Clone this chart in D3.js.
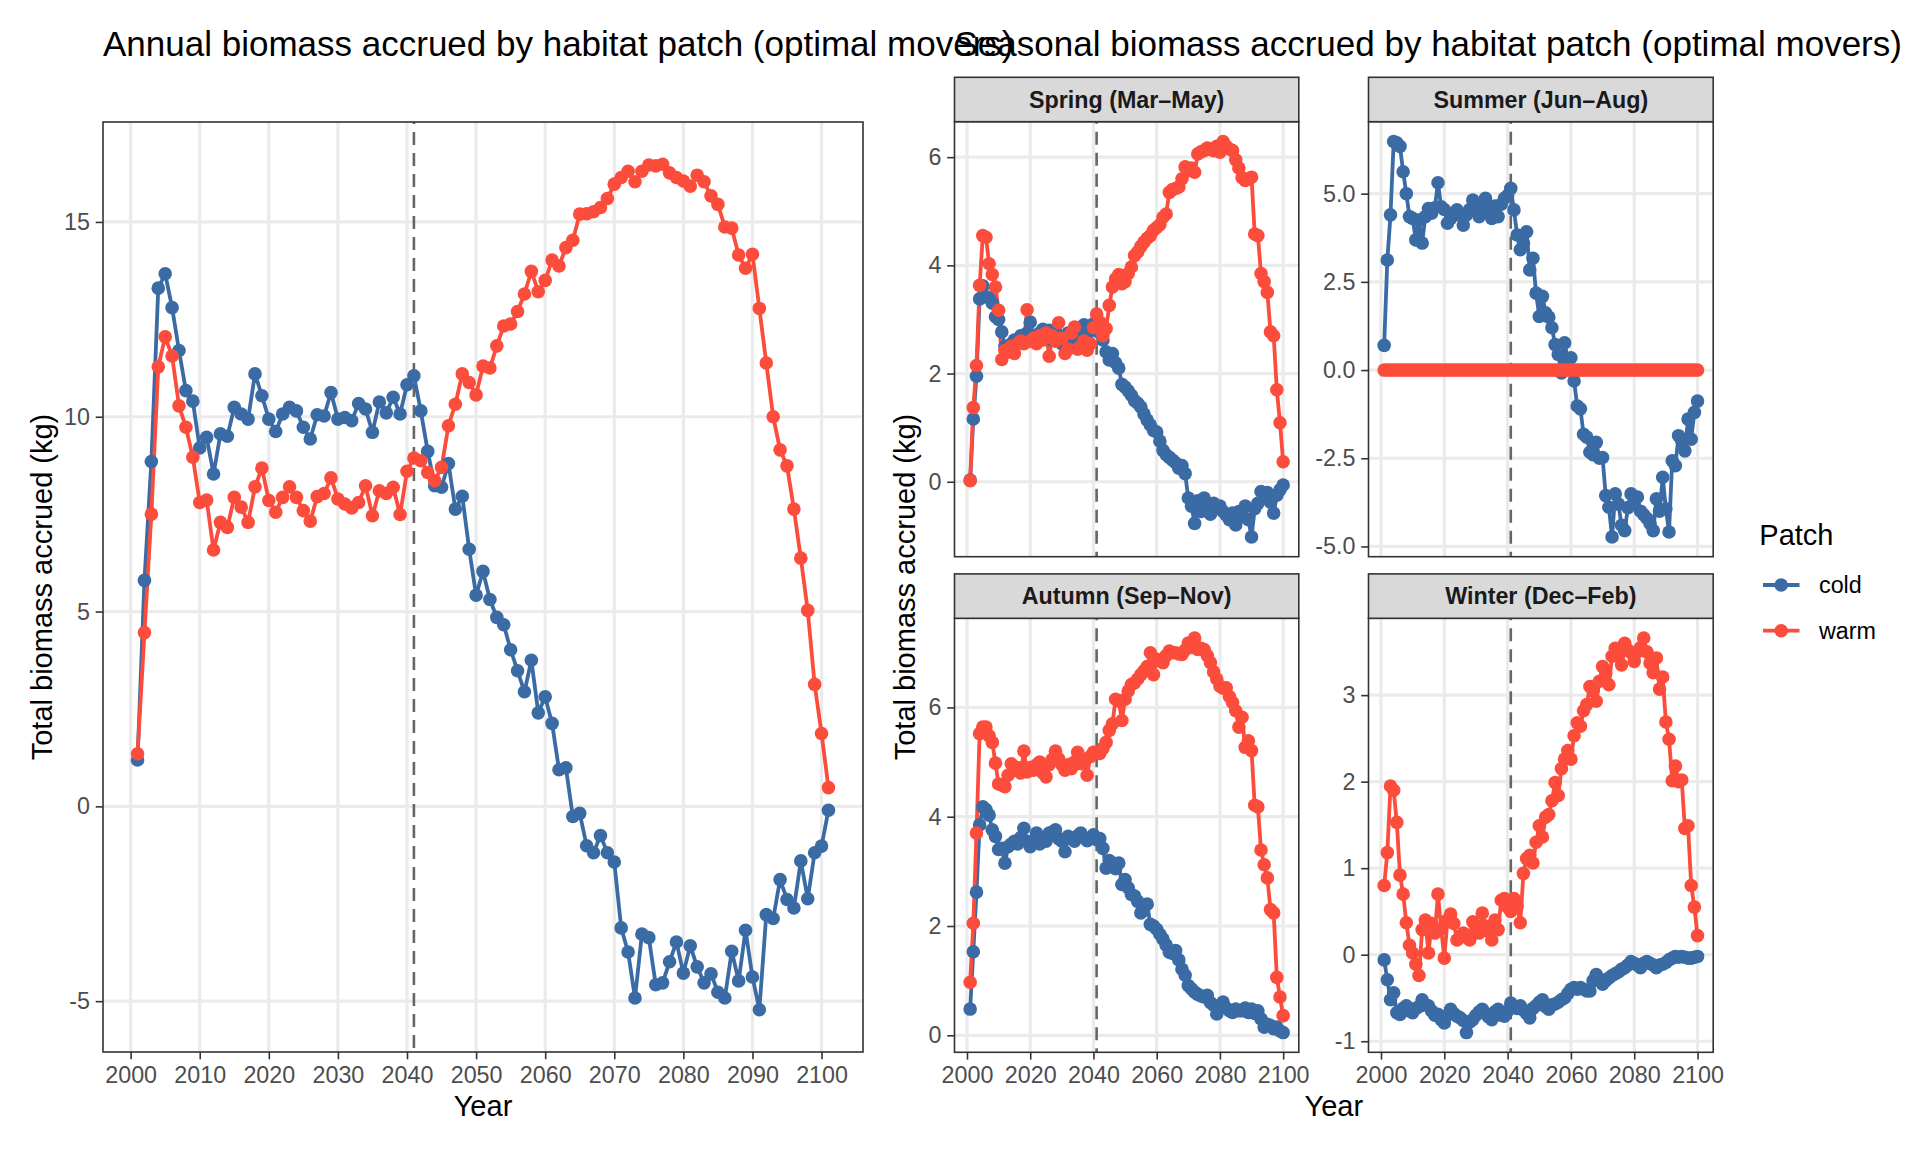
<!DOCTYPE html>
<html>
<head>
<meta charset="utf-8">
<script src="https://cdn.jsdelivr.net/npm/d3@7"></script>
<style>
  body { margin: 0; background: #fff; }
  svg text { font-family: "Liberation Sans", Arial, Helvetica, sans-serif; }
</style>
</head>
<body>
<svg id="chart" width="1920" height="1152"></svg>
<script>
// ---- data ----
const annualYears = d3.range(2001, 2102);
const seasonYears = d3.range(2001, 2101);

const annualCold = [
  1.19, 5.80, 8.85, 13.30, 13.67, 12.80, 11.70, 10.67, 10.40, 9.20,
  9.47, 8.53, 9.56, 9.50, 10.24, 10.07, 9.94, 11.10, 10.54, 9.94,
  9.62, 10.07, 10.24, 10.15, 9.73, 9.43, 10.05, 10.02, 10.62, 9.94,
  9.98, 9.90, 10.34, 10.20, 9.60, 10.38, 10.10, 10.50, 10.07, 10.82,
  11.05, 10.15, 9.11, 8.23, 8.19, 8.80, 7.63, 7.96, 6.60, 5.42,
  6.03, 5.31, 4.85, 4.66, 4.02, 3.48, 2.94, 3.75, 2.40, 2.81,
  2.13, 0.94, 0.99, -0.26, -0.18, -1.01, -1.19, -0.75, -1.19, -1.43,
  -3.12, -3.74, -4.92, -3.28, -3.37, -4.58, -4.53, -3.99, -3.48, -4.28,
  -3.58, -4.12, -4.53, -4.30, -4.77, -4.92, -3.72, -4.48, -3.18, -4.38,
  -5.22, -2.78, -2.88, -1.88, -2.39, -2.61, -1.40, -2.37, -1.19, -1.02,
  -0.10
];
const annualWarm = [
  1.35, 4.46, 7.50, 11.28, 12.05, 11.56, 10.28, 9.73, 8.96, 7.80,
  7.86, 6.58, 7.29, 7.16, 7.93, 7.68, 7.29, 8.20, 8.68, 7.85,
  7.55, 7.93, 8.20, 7.93, 7.59, 7.32, 7.95, 8.03, 8.43, 7.89,
  7.76, 7.66, 7.80, 8.23, 7.46, 8.10, 8.03, 8.19, 7.49, 8.60,
  8.94, 8.87, 8.57, 8.36, 8.70, 9.77, 10.32, 11.10, 10.88, 10.56,
  11.30, 11.25, 11.82, 12.33, 12.38, 12.70, 13.15, 13.73, 13.21, 13.50,
  14.02, 13.87, 14.34, 14.53, 15.20, 15.21, 15.26, 15.37, 15.60, 15.97,
  16.14, 16.30, 16.03, 16.30, 16.46, 16.44, 16.48, 16.26, 16.14, 16.05,
  15.92, 16.20, 16.03, 15.67, 15.45, 14.87, 14.84, 14.15, 13.81, 14.17,
  12.78, 11.38, 10.00, 9.15, 8.74, 7.63, 6.37, 5.03, 3.13, 1.87,
  0.48
];

const springCold = [
  0.03, 1.16, 1.95, 3.38, 3.62, 3.42, 3.40, 3.30, 3.05, 3.00,
  2.77, 2.50, 2.43, 2.55, 2.62, 2.60, 2.70, 2.65, 2.75, 2.95,
  2.70, 2.68, 2.75, 2.82, 2.70, 2.80, 2.62, 2.75, 2.70, 2.55,
  2.68, 2.75, 2.60, 2.80, 2.65, 2.85, 2.90, 2.75, 2.88, 2.92,
  2.80, 2.75, 2.62, 2.40, 2.25, 2.37, 2.20, 2.10, 1.80, 1.75,
  1.68, 1.60, 1.50, 1.45, 1.38, 1.25, 1.14, 1.05, 0.95, 0.92,
  0.75, 0.58, 0.50, 0.45, 0.40, 0.35, 0.25, 0.30, 0.15, -0.30,
  -0.45, -0.77, -0.35, -0.55, -0.30, -0.48, -0.60, -0.40, -0.50, -0.45,
  -0.55, -0.62, -0.70, -0.58, -0.80, -0.55, -0.65, -0.45, -0.70, -1.02,
  -0.50, -0.40, -0.18, -0.25, -0.20, -0.38, -0.58, -0.25, -0.15, -0.06
];
const springWarm = [
  0.02, 1.37, 2.15, 3.63, 4.55, 4.52, 4.03, 3.83, 3.60, 3.17,
  2.26, 2.43, 2.40, 2.50, 2.37, 2.55, 2.60, 2.55, 3.18, 2.60,
  2.65, 2.55, 2.70, 2.62, 2.75, 2.32, 2.70, 2.60, 2.94, 2.65,
  2.37, 2.45, 2.75, 2.86, 2.45, 2.50, 2.60, 2.43, 2.55, 2.85,
  3.10, 2.95, 2.70, 2.83, 3.26, 3.60, 3.75, 3.83, 3.66, 3.70,
  3.85, 3.97, 4.18, 4.25, 4.35, 4.43, 4.50, 4.55, 4.65, 4.70,
  4.75, 4.89, 4.95, 5.35, 5.40, 5.42, 5.45, 5.60, 5.82, 5.75,
  5.80, 5.72, 6.06, 6.10, 6.12, 6.17, 6.15, 6.12, 6.20, 6.09,
  6.29, 6.20, 6.15, 6.12, 5.95, 5.80, 5.62, 5.57, 5.60, 5.63,
  4.58, 4.55, 3.85, 3.70, 3.50, 2.77, 2.70, 1.70, 1.09, 0.37
];

const summerCold = [
  0.70, 3.12, 4.40, 6.48, 6.44, 6.34, 5.62, 5.00, 4.35, 4.30,
  3.69, 4.25, 3.60, 4.35, 4.58, 4.45, 4.60, 5.31, 4.63, 4.55,
  4.16, 4.30, 4.45, 4.54, 4.40, 4.11, 4.40, 4.55, 4.82, 4.60,
  4.35, 4.70, 4.87, 4.55, 4.30, 4.65, 4.35, 4.70, 4.87, 4.95,
  5.15, 4.54, 3.83, 3.41, 3.60, 3.92, 2.84, 3.17, 2.18, 1.52,
  2.09, 1.62, 1.50, 1.20, 0.72, 0.44, -0.08, 0.77, 0.30, 0.35,
  -0.31, -1.02, -1.10, -1.82, -1.90, -2.33, -2.40, -2.05, -2.50, -2.48,
  -3.56, -3.89, -4.73, -3.51, -3.80, -4.40, -4.55, -3.90, -3.51, -3.75,
  -3.60, -4.00, -4.10, -4.20, -4.35, -4.55, -3.65, -4.00, -3.04, -3.93,
  -4.59, -2.57, -2.71, -1.86, -2.00, -2.29, -1.39, -1.96, -1.20, -0.88
];
const summerWarm = [
  0, 0, 0, 0, 0, 0, 0, 0, 0, 0,  0, 0, 0, 0, 0, 0, 0, 0, 0, 0,
  0, 0, 0, 0, 0, 0, 0, 0, 0, 0,  0, 0, 0, 0, 0, 0, 0, 0, 0, 0,
  0, 0, 0, 0, 0, 0, 0, 0, 0, 0,  0, 0, 0, 0, 0, 0, 0, 0, 0, 0,
  0, 0, 0, 0, 0, 0, 0, 0, 0, 0,  0, 0, 0, 0, 0, 0, 0, 0, 0, 0,
  0, 0, 0, 0, 0, 0, 0, 0, 0, 0,  0, 0, 0, 0, 0, 0, 0, 0, 0, 0
];

const autumnCold = [
  0.48, 1.53, 2.62, 3.85, 4.18, 4.13, 4.03, 3.76, 3.64, 3.40,
  3.42, 3.15, 3.45, 3.50, 3.55, 3.50, 3.62, 3.79, 3.55, 3.45,
  3.55, 3.70, 3.50, 3.62, 3.55, 3.70, 3.72, 3.76, 3.60, 3.55,
  3.36, 3.64, 3.60, 3.55, 3.65, 3.70, 3.62, 3.56, 3.60, 3.67,
  3.58, 3.60, 3.42, 3.06, 3.20, 3.15, 3.05, 3.15, 2.76, 2.85,
  2.70, 2.58, 2.55, 2.45, 2.24, 2.35, 2.40, 2.03, 2.00, 1.94,
  1.85, 1.76, 1.65, 1.52, 1.50, 1.55, 1.38, 1.21, 1.10, 0.91,
  0.85, 0.79, 0.75, 0.72, 0.70, 0.73, 0.60, 0.55, 0.39, 0.50,
  0.61, 0.50, 0.45, 0.42, 0.48, 0.45, 0.45, 0.50, 0.42, 0.48,
  0.40, 0.45, 0.30, 0.15, 0.20, 0.18, 0.12, 0.15, 0.08, 0.05
];
const autumnWarm = [
  0.97, 2.05, 3.70, 5.52, 5.64, 5.64, 5.48, 5.36, 4.98, 4.60,
  4.58, 4.55, 4.76, 4.97, 4.85, 4.90, 4.80, 5.20, 4.82, 4.90,
  4.85, 4.95, 5.00, 4.80, 4.73, 4.95, 5.05, 5.20, 5.06, 4.95,
  4.85, 4.95, 4.88, 5.00, 5.18, 4.97, 5.05, 4.76, 5.10, 5.18,
  5.18, 5.16, 5.25, 5.36, 5.58, 5.70, 6.15, 6.12, 5.76, 6.15,
  6.30, 6.42, 6.45, 6.52, 6.60, 6.67, 6.75, 7.00, 6.60, 6.88,
  6.85, 6.82, 6.95, 7.03, 7.00, 7.00, 6.98, 6.97, 7.05, 7.18,
  7.10, 7.27, 7.06, 7.08, 7.06, 6.95, 6.82, 6.65, 6.52, 6.39,
  6.35, 6.36, 6.20, 6.09, 5.94, 5.64, 5.82, 5.27, 5.39, 5.21,
  4.21, 4.18, 3.39, 3.12, 2.88, 2.30, 2.24, 1.06, 0.70, 0.36
];

const winterCold = [
  -0.06, -0.29, -0.52, -0.44, -0.67, -0.69, -0.62, -0.59, -0.65, -0.67,
  -0.62, -0.60, -0.52, -0.58, -0.59, -0.65, -0.70, -0.69, -0.75, -0.79,
  -0.70, -0.63, -0.68, -0.71, -0.73, -0.76, -0.90, -0.78, -0.75, -0.70,
  -0.66, -0.63, -0.68, -0.72, -0.75, -0.66, -0.63, -0.70, -0.71, -0.65,
  -0.56, -0.60, -0.62, -0.59, -0.64, -0.68, -0.73, -0.62, -0.59, -0.55,
  -0.52, -0.60, -0.63, -0.58, -0.57, -0.55, -0.52, -0.50, -0.45, -0.40,
  -0.38, -0.40, -0.38, -0.40, -0.42, -0.42, -0.30, -0.23, -0.28, -0.34,
  -0.30, -0.27, -0.24, -0.22, -0.20, -0.17, -0.15, -0.12, -0.08, -0.10,
  -0.12, -0.15, -0.10, -0.08, -0.10, -0.12, -0.15, -0.12, -0.11, -0.09,
  -0.06, -0.04, -0.02, -0.03, -0.02, -0.03, -0.04, -0.04, -0.03, -0.02
];
const winterWarm = [
  0.80, 1.18, 1.95, 1.90, 1.53, 0.92, 0.70, 0.37, 0.11, 0.02,
  -0.11, -0.24, 0.29, 0.40, 0.02, 0.36, 0.25, 0.70, 0.30, -0.04,
  0.40, 0.47, 0.36, 0.17, 0.20, 0.25, 0.22, 0.17, 0.38, 0.29,
  0.25, 0.48, 0.33, 0.27, 0.17, 0.40, 0.29, 0.63, 0.65, 0.55,
  0.50, 0.65, 0.56, 0.37, 0.94, 1.11, 1.15, 1.06, 1.30, 1.49,
  1.36, 1.59, 1.62, 1.78, 1.99, 1.84, 2.15, 2.26, 2.36, 2.26,
  2.53, 2.68, 2.64, 2.82, 2.89, 3.10, 3.05, 2.93, 3.16, 3.33,
  3.25, 3.12, 3.45, 3.54, 3.45, 3.35, 3.60, 3.52, 3.49, 3.39,
  3.50, 3.55, 3.66, 3.50, 3.37, 3.26, 3.43, 3.07, 3.21, 2.69,
  2.49, 2.01, 2.18, 2.00, 2.02, 1.46, 1.49, 0.80, 0.55, 0.22
];

const patches = ['cold', 'warm'];
const patchColors = ['#3A6BA5', '#FC4C3B'];
const transitionYear = 2041;

const annualXTicks = [2000, 2010, 2020, 2030, 2040, 2050, 2060, 2070, 2080, 2090, 2100];
const seasonXTicks = [2000, 2020, 2040, 2060, 2080, 2100];
const annualYTicks = [-5, 0, 5, 10, 15];
const springYTicks = [0, 2, 4, 6];
const summerYTicks = [-5, -2.5, 0, 2.5, 5];
const autumnYTicks = [0, 2, 4, 6];
const winterYTicks = [-1, 0, 1, 2, 3];

const seasonNames = ['Spring (Mar\u2013May)', 'Summer (Jun\u2013Aug)', 'Autumn (Sep\u2013Nov)', 'Winter (Dec\u2013Feb)'];

// ---- drawing ----
const svg = d3.select('#chart');
const locale = d3.formatLocale({ decimal: '.', thousands: ',', grouping: [3], currency: ['', ''], minus: '-' });
const fmtInt = locale.format('d');
const fmtOne = locale.format('.1f');

const TICK_FONT = 23.3;
const TITLE_FONT = 35;
const AXIS_TITLE_FONT = 29;

// ggplot style 5% expansion
function expand(ext) {
  const pad = (ext[1] - ext[0]) * 0.05;
  return [ext[0] - pad, ext[1] + pad];
}

function drawPanel(box, years, series, xTicks, yTicks, yFmt, showX, strip) {
  const x = d3.scaleLinear().domain(expand(d3.extent(years))).range([box.left, box.right]);
  const y = d3.scaleLinear().domain(expand(d3.extent(series.flat()))).range([box.bottom, box.top]);
  const g = svg.append('g');

  g.append('rect')
    .attr('x', box.left).attr('y', box.top)
    .attr('width', box.right - box.left).attr('height', box.bottom - box.top)
    .style('fill', '#fff');

  // grid
  g.selectAll('line.gx').data(xTicks).enter().append('line')
    .attr('x1', d => x(d)).attr('x2', d => x(d))
    .attr('y1', box.top).attr('y2', box.bottom)
    .style('stroke', '#EBEBEB').style('stroke-width', 3.2);
  g.selectAll('line.gy').data(yTicks).enter().append('line')
    .attr('x1', box.left).attr('x2', box.right)
    .attr('y1', d => y(d)).attr('y2', d => y(d))
    .style('stroke', '#EBEBEB').style('stroke-width', 3.2);

  // transition marker
  g.append('line')
    .attr('x1', x(transitionYear)).attr('x2', x(transitionYear))
    .attr('y1', box.top).attr('y2', box.bottom)
    .style('stroke', '#666').style('stroke-width', 2.6)
    .style('stroke-dasharray', '13,8').style('stroke-dashoffset', -10);

  const line = d3.line().x((d, i) => x(years[i])).y(d => y(d));
  series.forEach((vals, k) => {
    g.append('path').datum(vals)
      .attr('d', line)
      .style('fill', 'none')
      .style('stroke', patchColors[k])
      .style('stroke-width', 3.8)
      .style('stroke-linejoin', 'round');
  });
  series.forEach((vals, k) => {
    g.append('g').selectAll('circle').data(vals).enter().append('circle')
      .attr('cx', (d, i) => x(years[i]))
      .attr('cy', d => y(d))
      .attr('r', 6.8)
      .style('fill', patchColors[k]);
  });

  g.append('rect')
    .attr('x', box.left).attr('y', box.top)
    .attr('width', box.right - box.left).attr('height', box.bottom - box.top)
    .style('fill', 'none').style('stroke', '#333').style('stroke-width', 1.6);

  // y axis
  const ya = g.append('g').attr('transform', `translate(${box.left},0)`)
    .call(d3.axisLeft(y).tickValues(yTicks).tickFormat(yFmt).tickSize(7.3).tickPadding(5.8));
  ya.select('.domain').remove();
  ya.selectAll('line').style('stroke', '#333').style('stroke-width', 1.6);
  ya.selectAll('text').style('fill', '#4D4D4D').style('font-size', TICK_FONT + 'px')
    .style('font-family', '"Liberation Sans", Arial, sans-serif');

  if (showX) {
    const xa = g.append('g').attr('transform', `translate(0,${box.bottom})`)
      .call(d3.axisBottom(x).tickValues(xTicks).tickFormat(fmtInt).tickSize(7.3).tickPadding(7));
    xa.select('.domain').remove();
    xa.selectAll('line').style('stroke', '#333').style('stroke-width', 1.6);
    xa.selectAll('text').style('fill', '#4D4D4D').style('font-size', TICK_FONT + 'px')
      .style('font-family', '"Liberation Sans", Arial, sans-serif');
  }

  if (strip) {
    g.append('rect')
      .attr('x', box.left).attr('y', box.top - 44.4)
      .attr('width', box.right - box.left).attr('height', 44.4)
      .style('fill', '#D9D9D9').style('stroke', '#333').style('stroke-width', 1.6);
    g.append('text')
      .attr('x', (box.left + box.right) / 2).attr('y', box.top - 22.2)
      .attr('dy', '0.36em')
      .attr('text-anchor', 'middle')
      .style('font-size', TICK_FONT + 'px').style('font-weight', 'bold')
      .style('fill', '#1A1A1A')
      .text(strip);
  }
}

// left: annual
const annualBox = { left: 103, right: 863, top: 122, bottom: 1052 };
drawPanel(annualBox, annualYears, [annualCold, annualWarm], annualXTicks, annualYTicks, fmtInt, true, null);

// right: seasonal facets
const colX = [[954.5, 1298.8], [1368.5, 1713.2]];
const rowY = [[121.7, 556.7], [618.3, 1052.3]];
const seasonSeries = [[springCold, springWarm], [summerCold, summerWarm], [autumnCold, autumnWarm], [winterCold, winterWarm]];
const seasonYTicks = [springYTicks, summerYTicks, autumnYTicks, winterYTicks];
const seasonFmts = [fmtInt, fmtOne, fmtInt, fmtInt];
seasonNames.forEach((name, i) => {
  const c = i % 2, r = Math.floor(i / 2);
  const box = { left: colX[c][0], right: colX[c][1], top: rowY[r][0], bottom: rowY[r][1] };
  drawPanel(box, seasonYears, seasonSeries[i], seasonXTicks, seasonYTicks[i], seasonFmts[i], r === 1, name);
});

// titles
svg.append('text').attr('x', 103).attr('y', 55.5)
  .style('font-size', TITLE_FONT + 'px').style('fill', '#000')
  .text('Annual biomass accrued by habitat patch (optimal movers)');
svg.append('text').attr('x', 954.5).attr('y', 55.5)
  .style('font-size', TITLE_FONT + 'px').style('fill', '#000')
  .text('Seasonal biomass accrued by habitat patch (optimal movers)');

// axis titles
[483, 1333.8].forEach(cx => {
  svg.append('text').attr('x', cx).attr('y', 1116)
    .attr('text-anchor', 'middle')
    .style('font-size', AXIS_TITLE_FONT + 'px').style('fill', '#000')
    .text('Year');
});
[51.5, 914.5].forEach(bx => {
  svg.append('text')
    .attr('transform', `translate(${bx},587) rotate(-90)`)
    .attr('text-anchor', 'middle')
    .style('font-size', AXIS_TITLE_FONT + 'px').style('fill', '#000')
    .text('Total biomass accrued (kg)');
});

// legend
const legend = svg.append('g');
legend.append('text').attr('x', 1759.3).attr('y', 545)
  .style('font-size', AXIS_TITLE_FONT + 'px').style('fill', '#000')
  .text('Patch');
const keyY = [585, 630.7];
patches.forEach((p, i) => {
  legend.append('line')
    .attr('x1', 1763).attr('x2', 1799.5)
    .attr('y1', keyY[i]).attr('y2', keyY[i])
    .style('stroke', patchColors[i]).style('stroke-width', 3.8);
  legend.append('circle')
    .attr('cx', 1781.2).attr('cy', keyY[i]).attr('r', 6.8)
    .style('fill', patchColors[i]);
  legend.append('text')
    .attr('x', 1819).attr('y', keyY[i]).attr('dy', '0.35em')
    .style('font-size', TICK_FONT + 'px').style('fill', '#000')
    .text(p);
});
</script>
</body>
</html>
